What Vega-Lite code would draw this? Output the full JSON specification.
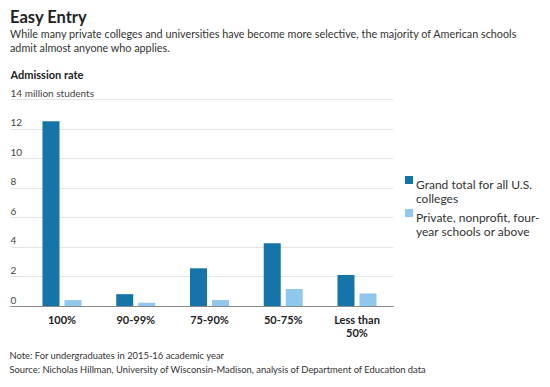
{
  "$schema": "https://vega.github.io/schema/vega-lite/v6.json",
  "width": 383,
  "height": 207,
  "autosize": {"type": "none"},
  "padding": {"left": 10, "top": 99, "right": 157, "bottom": 81},
  "background": "white",
  "config": {"font": "Lato", "view": {"stroke": null}},
  "title": {
    "text": "Easy Entry",
    "subtitle": ["While many private colleges and universities have become more selective, the majority of American schools", "admit almost anyone who applies."],
    "anchor": "start",
    "frame": "group",
    "offset": 15,
    "fontSize": 16.5,
    "fontWeight": "bold",
    "color": "#222222",
    "subtitleFontSize": 10.8,
    "subtitleColor": "#333333",
    "subtitleLineHeight": 14,
    "subtitlePadding": 3
  },
  "data": {
    "values": [
      {"rate": "100%", "group": "Grand total for all U.S. colleges", "students": 12.5},
      {"rate": "100%", "group": "Private, nonprofit, four-year schools or above", "students": 0.4},
      {"rate": "90-99%", "group": "Grand total for all U.S. colleges", "students": 0.8},
      {"rate": "90-99%", "group": "Private, nonprofit, four-year schools or above", "students": 0.22},
      {"rate": "75-90%", "group": "Grand total for all U.S. colleges", "students": 2.55},
      {"rate": "75-90%", "group": "Private, nonprofit, four-year schools or above", "students": 0.4},
      {"rate": "50-75%", "group": "Grand total for all U.S. colleges", "students": 4.25},
      {"rate": "50-75%", "group": "Private, nonprofit, four-year schools or above", "students": 1.15},
      {"rate": "Less than 50%", "group": "Grand total for all U.S. colleges", "students": 2.1},
      {"rate": "Less than 50%", "group": "Private, nonprofit, four-year schools or above", "students": 0.85}
    ]
  },
  "mark": {"type": "bar"},
  "encoding": {
    "x": {
      "field": "rate",
      "type": "nominal",
      "sort": ["100%", "90-99%", "75-90%", "50-75%", "Less than 50%"],
      "scale": {"paddingInner": 0.471, "paddingOuter": 0.332, "align": 0.663},
      "axis": {
        "labelAngle": 0,
        "labelExpr": "datum.label == 'Less than 50%' ? ['Less than', '50%'] : datum.label",
        "labelFontWeight": "bold",
        "labelFontSize": 11,
        "labelColor": "#222222",
        "labelPadding": 8,
        "labelBaseline": "top",
        "labelLineHeight": 13,
        "ticks": false,
        "domainColor": "#888888",
        "domainWidth": 1,
        "title": ["Note: For undergraduates in 2015-16 academic year", "Source: Nicholas Hillman, University of Wisconsin-Madison, analysis of Department of Education data"],
        "titleX": -1,
        "titleY": 52,
        "titleAlign": "left",
        "titleAnchor": "start",
        "titleBaseline": "alphabetic",
        "titleFontSize": 9.4,
        "titleFontWeight": "normal",
        "titleColor": "#333333",
        "titleLineHeight": 14
      }
    },
    "xOffset": {
      "field": "group",
      "sort": ["Grand total for all U.S. colleges", "Private, nonprofit, four-year schools or above"],
      "scale": {"paddingInner": 0.227, "paddingOuter": 0}
    },
    "y": {
      "field": "students",
      "type": "quantitative",
      "scale": {"domain": [0, 14]},
      "axis": {
        "values": [0, 2, 4, 6, 8, 10, 12, 14],
        "labelExpr": "datum.value == 14 ? '14 million students' : datum.label",
        "grid": true,
        "gridColor": "#e4e4e4",
        "domain": false,
        "ticks": false,
        "tickSize": 0,
        "labelPadding": 0,
        "labelAlign": "left",
        "labelBaseline": "alphabetic",
        "labelOffset": -3,
        "labelFontSize": 10,
        "labelColor": "#444444",
        "title": "Admission rate",
        "titleAngle": 0,
        "titleAlign": "left",
        "titleBaseline": "alphabetic",
        "titleX": 0,
        "titleY": -21,
        "titleFontSize": 11,
        "titleFontWeight": "bold",
        "titleColor": "#222222"
      }
    },
    "color": {
      "field": "group",
      "type": "nominal",
      "scale": {
        "domain": ["Grand total for all U.S. colleges", "Private, nonprofit, four-year schools or above"],
        "range": ["#1574a8", "#8fc8ec"]
      },
      "legend": {
        "orient": "none",
        "legendX": 393,
        "legendY": 75,
        "title": null,
        "symbolType": "square",
        "symbolSize": 64,
        "symbolStrokeWidth": 0,
        "symbolOpacity": 1,
        "labelFontSize": 12,
        "labelColor": "#333333",
        "labelLimit": 200,
        "labelBaseline": "top",
        "labelLineHeight": 13,
        "labelOffset": 1,
        "rowPadding": 2,
        "labelExpr": "datum.label == 'Grand total for all U.S. colleges' ? ['Grand total for all U.S.', 'colleges'] : ['Private, nonprofit, four-', 'year schools or above']"
      }
    }
  }
}
